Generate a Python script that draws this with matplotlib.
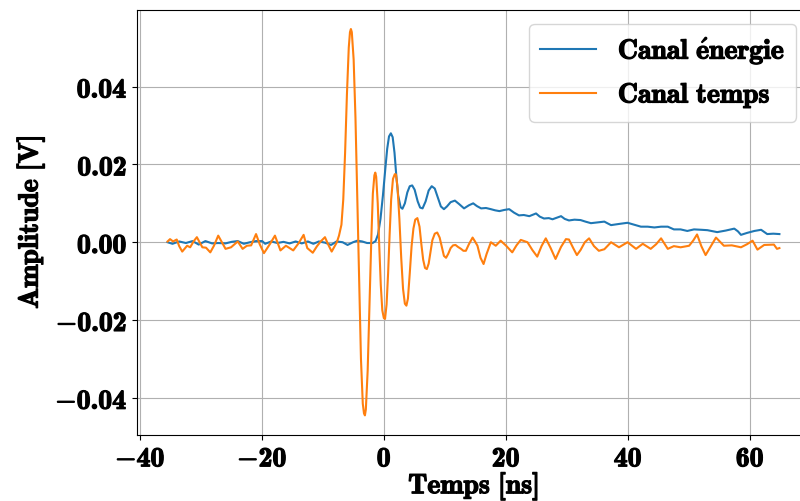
import matplotlib
matplotlib.use("Agg")
import matplotlib.pyplot as plt
import matplotlib.patheffects as pe
from matplotlib.ticker import FuncFormatter

plt.rcParams['mathtext.fontset'] = 'custom'
plt.rcParams['mathtext.bf'] = 'cmb10'
plt.rcParams['mathtext.rm'] = 'cmr10'
plt.rcParams['mathtext.it'] = 'cmmi10'
plt.rcParams['mathtext.fallback'] = 'cm'

# Canal énergie (blue)
t_energie = [-35.5, -34.7, -33.6, -32.5, -31.4, -30.4, -29.3, -28.2, -27.2, -26.0,
             -25.0, -24.0, -23.0, -22.0, -21.0, -20.0, -19.5, -18.5, -17.5, -16.5,
             -15.5, -14.5, -13.5, -12.5, -11.6, -10.7, -9.7, -8.7, -7.8, -6.8,
             -6.0, -5.1, -4.4, -3.6, -2.8, -1.9, -1.4, -1.0, -0.6, -0.2,
             0.2, 0.5, 0.8, 1.1, 1.4, 1.7, 2.0, 2.3, 2.7, 3.0,
             3.4, 3.8, 4.2, 4.6, 5.0, 5.5, 5.9, 6.3, 6.8, 7.3,
             7.8, 8.3, 8.8, 9.3, 9.8, 10.3, 10.9, 11.6, 12.3, 13.1,
             13.9, 14.6, 15.2, 15.9, 16.7, 17.5, 18.2, 18.9, 19.7, 20.5,
             21.3, 22.1, 22.9, 23.8, 24.9, 25.5, 26.2, 27.0, 27.6, 28.3,
             29.0, 29.6, 30.3, 31.2, 32.2, 33.0, 33.9, 35.0, 36.1, 36.7,
             37.2, 38.5, 39.9, 41.0, 42.1, 43.2, 44.3, 45.4, 46.5, 47.5,
             48.6, 49.7, 50.8, 52.0, 53.0, 54.6, 56.0, 57.4, 58.0, 58.5,
             59.5, 60.7, 61.8, 62.8, 63.8, 64.8]
v_energie = [0.0000, -0.0004, 0.0002, -0.0002, 0.0003, -0.0006, 0.0003, -0.0003, -0.0002, -0.0003,
             0.0001, 0.0003, -0.0004, 0.0000, 0.0003, 0.0003, -0.0004, 0.0002, -0.0002, 0.0001,
             -0.0003, 0.0002, -0.0003, 0.0002, -0.0004, 0.0002, -0.0001, -0.0007, 0.0002, 0.0000,
             -0.0007, 0.0000, 0.0004, 0.0002, -0.0002, -0.0002, 0.0003, 0.0020, 0.0060, 0.0120,
             0.0190, 0.0240, 0.0272, 0.0280, 0.0270, 0.0230, 0.0170, 0.0120, 0.0090, 0.0086,
             0.0100, 0.0128, 0.0144, 0.0146, 0.0135, 0.0105, 0.0089, 0.0087, 0.0105, 0.0133,
             0.0144, 0.0138, 0.0115, 0.0092, 0.0085, 0.0092, 0.0103, 0.0107, 0.0098, 0.0087,
             0.0095, 0.0100, 0.0093, 0.0087, 0.0088, 0.0085, 0.0082, 0.0080, 0.0083, 0.0085,
             0.0076, 0.0069, 0.0070, 0.0067, 0.0074, 0.0066, 0.0061, 0.0062, 0.0059, 0.0063,
             0.0067, 0.0060, 0.0056, 0.0058, 0.0057, 0.0053, 0.0049, 0.0051, 0.0053, 0.0048,
             0.0044, 0.0047, 0.0050, 0.0045, 0.0040, 0.0040, 0.0038, 0.0040, 0.0040, 0.0033,
             0.0033, 0.0029, 0.0033, 0.0032, 0.0031, 0.0026, 0.0030, 0.0035, 0.0028, 0.0019,
             0.0024, 0.0029, 0.0032, 0.0021, 0.0022, 0.0021]

# Canal temps (orange)
t_temps = [-35.5, -35.1, -34.6, -34.0, -33.6, -33.1, -32.3, -31.8, -31.2, -30.7,
           -29.8, -29.2, -28.5, -27.9, -27.2, -26.6, -26.0, -25.1, -24.0, -23.2,
           -22.5, -21.8, -21.0, -20.4, -19.7, -18.7, -17.9, -17.0, -16.1, -14.9,
           -14.0, -13.2, -12.6, -11.7, -11.0, -10.4, -9.7, -9.2, -8.6, -8.1,
           -7.75, -7.4, -7.0, -6.7, -6.4, -6.1, -5.8, -5.6, -5.45, -5.3,
           -5.0, -4.7, -4.4, -4.1, -3.8, -3.5, -3.3, -3.15, -3.0, -2.7,
           -2.4, -2.1, -1.85, -1.6, -1.45, -1.3, -1.05, -0.8, -0.55, -0.3,
           -0.05, 0.15, 0.4, 0.65, 0.9, 1.15, 1.45, 1.75, 1.95, 2.2,
           2.5, 2.8, 3.1, 3.4, 3.65, 3.9, 4.2, 4.5, 4.8, 5.1,
           5.45, 5.8, 6.1, 6.4, 6.7, 7.0, 7.3, 7.6, 7.9, 8.3,
           8.7, 9.1, 9.5, 9.8, 10.15, 10.5, 10.9, 11.3, 11.7, 12.1,
           12.6, 13.0, 13.4, 13.9, 14.5, 14.9, 15.3, 15.8, 16.3, 16.8,
           17.5, 18.3, 19.1, 20.0, 21.0, 21.7, 22.4, 23.5, 24.3, 25.1,
           25.8, 26.5, 27.3, 28.1, 29.0, 29.8, 30.3, 31.0, 31.6, 32.2,
           32.9, 33.6, 34.4, 35.2, 36.1, 37.2, 38.5, 39.9, 41.3, 42.4,
           43.7, 44.6, 45.4, 46.5, 47.5, 48.6, 50.0, 50.7, 51.3, 52.0,
           52.7, 53.5, 54.4, 55.7, 57.0, 58.5, 59.5, 60.4, 61.2, 62.3,
           63.9, 64.4, 64.8]
v_temps = [0.0002, 0.0008, 0.0002, 0.0007, -0.0010, -0.0024, -0.0009, -0.0013, 0.0003, 0.0013,
           -0.0013, -0.0014, -0.0026, -0.0009, 0.0017, 0.0000, -0.0017, -0.0013, 0.0002, -0.0017,
           -0.0009, -0.0008, 0.0021, -0.0005, -0.0028, -0.0004, 0.0017, -0.0021, -0.0009, -0.0021,
           -0.0002, 0.0019, -0.0015, -0.0027, -0.0010, 0.0002, 0.0013, -0.0005, -0.0024, -0.0010,
           0.0000, 0.0017, 0.0045, 0.0110, 0.0230, 0.0380, 0.0500, 0.0540, 0.0548, 0.0540,
           0.0470, 0.0320, 0.0110, -0.0110, -0.0300, -0.0415, -0.0440, -0.0445, -0.0430, -0.0330,
           -0.0160, 0.0010, 0.0125, 0.0172, 0.0179, 0.0168, 0.0100, -0.0010, -0.0110, -0.0175,
           -0.0195, -0.0197, -0.0160, -0.0080, 0.0020, 0.0110, 0.0163, 0.0175, 0.0174, 0.0140,
           0.0060, -0.0040, -0.0120, -0.0158, -0.0163, -0.0145, -0.0080, -0.0010, 0.0035, 0.0058,
           0.0062, 0.0040, -0.0005, -0.0045, -0.0066, -0.0069, -0.0055, -0.0025, 0.0005, 0.0022,
           0.0025, 0.0012, -0.0015, -0.0035, -0.0040, -0.0030, -0.0015, -0.0008, -0.0007, -0.0012,
           -0.0017, -0.0022, -0.0022, -0.0005, 0.0012, 0.0002, -0.0009, -0.0040, -0.0056, -0.0030,
           0.0000, -0.0009, 0.0004, -0.0009, -0.0026, -0.0008, 0.0006, 0.0000, -0.0020, -0.0037,
           -0.0010, 0.0010, -0.0015, -0.0043, -0.0012, 0.0008, 0.0007, -0.0015, -0.0033, -0.0020,
           0.0000, 0.0010, -0.0010, -0.0022, -0.0018, 0.0000, -0.0013, 0.0000, -0.0017, -0.0004,
           -0.0017, -0.0005, 0.0010, -0.0017, -0.0010, -0.0013, -0.0009, 0.0005, 0.0020, -0.0010,
           -0.0033, -0.0012, 0.0012, -0.0009, -0.0008, -0.0013, -0.0005, 0.0004, -0.0019, -0.0007,
           -0.0006, -0.0017, -0.0015]

labels = [r'$\mathbf{Canal\ \acute{e}nergie}$', r'$\mathbf{Canal\ temps}$']
xlabel = r'$\mathbf{Temps\ [ns]}$'
ylabel = r'$\mathbf{Amplitude\ [V]}$'

fig = plt.figure(figsize=(8, 5.02), dpi=100)
ax = fig.add_axes([137/800, 66.3/502, 673/800, 425/502])

ax.plot(t_energie, v_energie, color='#1f77b4', lw=1.5, label=labels[0])
ax.plot(t_temps, v_temps, color='#ff7f0e', lw=1.5, label=labels[1])

ax.set_xticks([-40, -20, 0, 20, 40, 60])
ax.set_yticks([-0.04, -0.02, 0.0, 0.02, 0.04])

def fmt_x(v, pos):
    return r'$\mathbf{' + f'{v:.0f}' + '}$'

def fmt_y(v, pos):
    if abs(v) < 1e-9:
        v = 0.0
    return r'$\mathbf{' + f'{v:.2f}' + '}$'

ax.xaxis.set_major_formatter(FuncFormatter(fmt_x))
ax.yaxis.set_major_formatter(FuncFormatter(fmt_y))
ax.tick_params(labelsize=20)
ax.set_xlabel(xlabel, fontsize=20, labelpad=-1)
ax.set_ylabel(ylabel, fontsize=20, labelpad=6)
ax.grid(True)
leg = ax.legend(loc='upper right', fontsize=20)

stroke = [pe.withStroke(linewidth=0.9, foreground='black')]
for t in ax.get_xticklabels() + ax.get_yticklabels():
    t.set_path_effects(stroke)
ax.xaxis.label.set_path_effects(stroke)
ax.yaxis.label.set_path_effects(stroke)
for t in leg.get_texts():
    t.set_path_effects(stroke)

fig.savefig('out.png', dpi=100)
